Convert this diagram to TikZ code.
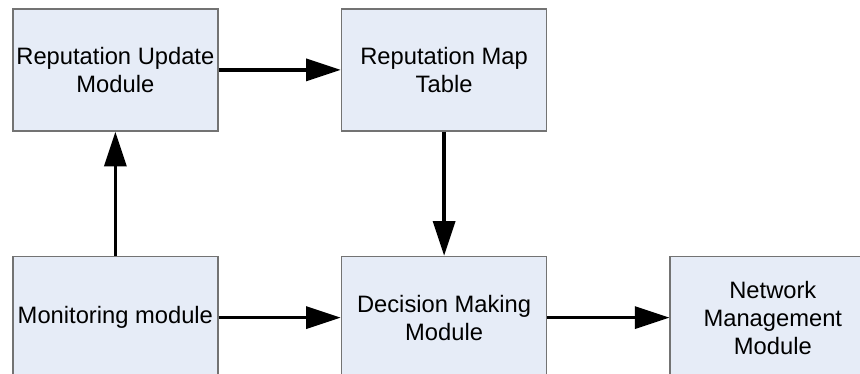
\documentclass[tikz,border=0pt]{standalone}
\usepackage{fontspec}
\setmainfont{Liberation Sans}
\usepackage{xcolor}
\usepackage{tikz}
\usetikzlibrary{arrows.meta,positioning}

\definecolor{boxfill}{RGB}{230,236,247}
\definecolor{boxline}{RGB}{115,115,115}

\begin{document}
\begin{tikzpicture}[
      box/.style={draw=boxline, line width=1.3pt, fill=boxfill, align=center, inner sep=0pt,
        minimum width=153.75pt, minimum height=91.5pt, font=\fontsize{17.8}{21}\selectfont},
      arr/.style={-{Triangle[length=26pt, width=16.5pt]}, line width=2.5pt},
    ]
      \path[use as bounding box, clip] (0,0) rectangle (645pt,-280.5pt);

      \node[box, anchor=north west] (update) at (9pt,-6pt) {Reputation Update\\Module};
      \node[box, right=91.5pt of update] (table) {Reputation Map\\Table};
      \node[box, below=93pt of update] (monitor) {Monitoring module};
      \node[box, below=93pt of table] (decision) {Decision Making\\Module};
      \node[box, right=91.5pt of decision] (network) {Network\\Management\\Module};

      \draw[arr] (update) -- (table);
      \draw[arr] (table) -- (decision);
      \draw[arr] (monitor) -- (update);
      \draw[arr] (monitor) -- (decision);
      \draw[arr] (decision) -- (network);
    \end{tikzpicture}
\end{document}
